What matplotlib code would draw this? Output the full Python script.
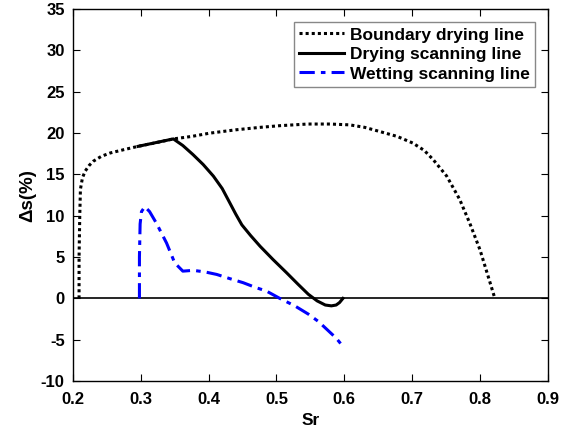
import matplotlib.pyplot as plt
import numpy as np

plt.rcParams['font.family'] = ['Liberation Sans', 'DejaVu Sans']
plt.rcParams['font.weight'] = 'bold'
plt.rcParams['axes.unicode_minus'] = False

# Boundary drying line (dotted)
bd_sr = [0.209, 0.209, 0.210, 0.211, 0.214, 0.218, 0.224, 0.230, 0.242, 0.255, 0.275, 0.296,
         0.320, 0.348, 0.375, 0.402, 0.440, 0.476, 0.505, 0.546, 0.579, 0.608, 0.630,
         0.652, 0.678, 0.701, 0.718, 0.731, 0.751, 0.770, 0.785, 0.800, 0.812, 0.822]
bd_ds = [0.0, 5.0, 9.9, 13.2, 14.6, 15.4, 16.1, 16.6, 17.2, 17.6, 18.0, 18.4,
         18.8, 19.3, 19.6, 20.0, 20.4, 20.7, 20.9, 21.1, 21.1, 21.0, 20.7,
         20.2, 19.6, 18.8, 17.9, 16.8, 14.8, 12.0, 9.1, 5.9, 2.7, 0.0]

# Drying scanning line (solid)
dr_sr = [0.296, 0.348, 0.362, 0.377, 0.392, 0.407, 0.420, 0.431, 0.440, 0.449,
         0.462, 0.476, 0.495, 0.515, 0.532, 0.547, 0.560, 0.572, 0.581, 0.588, 0.593, 0.598]
dr_ds = [18.4, 19.3, 18.5, 17.4, 16.2, 14.8, 13.3, 11.6, 10.2, 8.9,
         7.6, 6.3, 4.7, 3.1, 1.7, 0.5, -0.3, -0.8, -0.9, -0.8, -0.5, 0.0]

# Wetting scanning line (dash-dot)
wt_sr = [0.298, 0.298, 0.299, 0.301, 0.306, 0.313, 0.323, 0.338, 0.350, 0.362, 0.370,
         0.377, 0.395, 0.412, 0.431, 0.451, 0.470, 0.485, 0.505, 0.527, 0.547,
         0.562, 0.575, 0.588, 0.600]
wt_ds = [0.0, 5.0, 9.0, 10.5, 11.1, 10.5, 9.1, 6.7, 4.3, 3.3, 3.35,
         3.4, 3.2, 2.9, 2.4, 1.9, 1.3, 0.9, 0.0, -0.9, -1.9,
         -2.8, -3.8, -4.8, -6.0]

fig = plt.figure(figsize=(5.7, 4.36), dpi=100)
ax = fig.add_axes([0.128, 0.126, 0.833, 0.853])

ax.axhline(0, color='black', lw=1.2, zorder=1)
ax.plot(bd_sr, bd_ds, color='black', ls=(0, (1, 1)), lw=2.2, label='Boundary drying line')
ax.plot(dr_sr, dr_ds, color='black', ls='-', lw=2.2, label='Drying scanning line')
ax.plot(wt_sr, wt_ds, color='blue', ls=(0, (5, 2, 1.5, 2)), lw=2.2, label='Wetting scanning line')

ax.set_xlim(0.2, 0.9)
ax.set_ylim(-10, 35)
ax.set_xticks(np.arange(0.2, 0.91, 0.1))
ax.set_yticks(np.arange(-10, 36, 5))
ax.set_xticklabels(['0.2', '0.3', '0.4', '0.5', '0.6', '0.7', '0.8', '0.9'])
ax.tick_params(direction='in', top=True, right=True, labelsize=12, length=5)
ax.tick_params(axis='x', pad=8)
ax.tick_params(axis='y', pad=6)
for s in ax.spines.values():
    s.set_linewidth(1.0)

ax.set_xlabel('Sr', fontsize=12.5, fontweight='bold', labelpad=4)
ax.set_ylabel('Δs(%)', fontsize=13.5, fontweight='bold', labelpad=3)

leg = ax.legend(loc='upper right', fontsize=12.5, handlelength=2.6, handletextpad=0.3,
                borderaxespad=0.75, fancybox=False, framealpha=1, borderpad=0.3,
                labelspacing=0.25)
leg.get_frame().set_edgecolor('#888888')
leg.get_frame().set_linewidth(1.0)
for t in leg.get_texts():
    t.set_fontweight('bold')

fig.savefig('out.png', dpi=100)
